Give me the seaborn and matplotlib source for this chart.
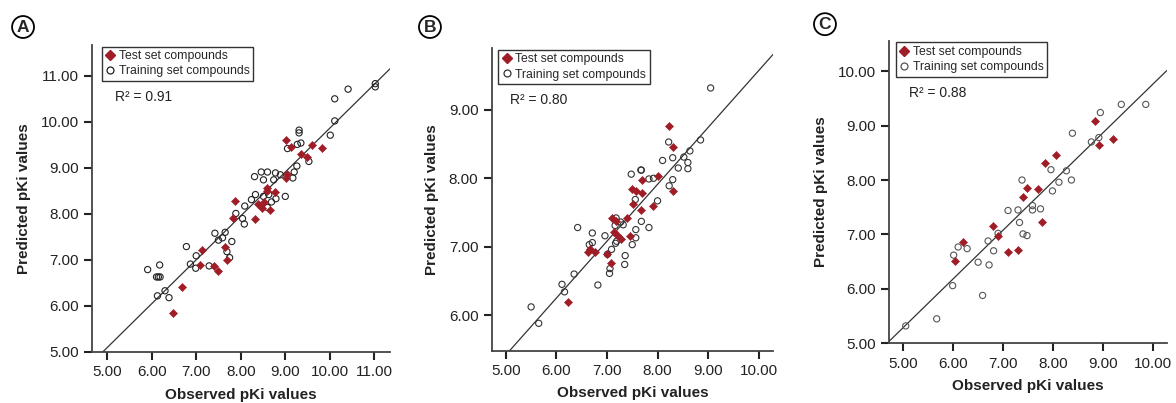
import numpy as np
import pandas as pd
import matplotlib
matplotlib.use('Agg')
import matplotlib.pyplot as plt
from matplotlib.ticker import FormatStrFormatter
from matplotlib.lines import Line2D
import seaborn as sns

sns.set_style('ticks')
plt.rcParams['font.family'] = ['Liberation Sans', 'DejaVu Sans']

# panel A
a_test_obs = [9.02, 9.13, 9.60, 9.82, 9.35, 9.49, 9.03, 9.02, 8.60, 8.77, 8.39, 8.53, 8.48, 8.65,
              7.88, 7.82, 8.33, 7.13, 7.65, 7.08, 7.39, 7.49, 7.69, 6.68, 6.48, 8.58]
a_test_pred = [9.60, 9.45, 9.49, 9.44, 9.31, 9.24, 8.87, 8.78, 8.57, 8.48, 8.22, 8.25, 8.13, 8.09,
               8.28, 7.90, 7.88, 7.21, 7.29, 6.90, 6.86, 6.77, 7.00, 6.42, 5.84, 8.50]
a_train_obs = [11.02, 11.02, 10.41, 10.11, 10.11, 10.01, 9.31, 9.31, 9.27, 9.35, 9.05, 9.53, 9.26,
               9.20, 9.17, 8.31, 8.46, 8.60, 8.78, 8.89, 8.51, 8.74, 8.33, 8.24, 8.51, 8.63, 8.79,
               8.69, 9.00, 8.60, 8.09, 7.89, 8.04, 8.08, 7.65, 7.42, 7.50, 7.59, 7.80, 6.78, 7.00,
               7.69, 7.75, 6.87, 6.99, 7.29, 5.91, 6.18, 6.11, 6.15, 6.19, 6.30, 6.13, 6.39]
a_train_pred = [10.83, 10.76, 10.71, 10.50, 10.02, 9.71, 9.82, 9.76, 9.51, 9.54, 9.42, 9.14, 9.04,
                8.91, 8.78, 8.81, 8.91, 8.91, 8.89, 8.85, 8.74, 8.74, 8.42, 8.31, 8.38, 8.42, 8.33,
                8.26, 8.38, 8.14, 8.17, 8.01, 7.90, 7.78, 7.60, 7.58, 7.43, 7.48, 7.40, 7.29, 7.09,
                7.18, 7.05, 6.91, 6.82, 6.87, 6.79, 6.89, 6.63, 6.63, 6.63, 6.33, 6.22, 6.18]

# panel B
b_test_obs = [8.23, 8.31, 8.00, 7.69, 7.50, 7.57, 7.69, 8.31, 7.52, 7.67, 7.92, 7.10, 7.17, 7.39,
              7.14, 7.20, 7.28, 7.46, 6.62, 6.66, 6.76, 7.01, 7.07, 6.23]
b_test_pred = [8.76, 8.45, 8.04, 7.97, 7.84, 7.82, 7.78, 7.82, 7.62, 7.53, 7.59, 7.42, 7.37, 7.42,
               7.22, 7.17, 7.11, 7.16, 6.92, 6.96, 6.92, 6.89, 6.76, 6.19]
b_train_obs = [9.05, 8.85, 8.22, 8.64, 8.52, 8.30, 8.10, 8.60, 8.60, 8.41, 7.67, 7.68, 7.48, 7.83,
               7.92, 8.30, 8.23, 8.00, 7.56, 7.68, 7.83, 7.57, 7.57, 7.50, 7.18, 7.16, 7.27, 7.32,
               6.42, 6.71, 6.96, 6.71, 6.65, 7.19, 7.17, 7.09, 7.01, 7.36, 7.35, 7.06, 7.05, 6.35,
               6.11, 6.16, 6.82, 5.50, 5.65]
b_train_pred = [9.32, 8.56, 8.53, 8.40, 8.31, 8.30, 8.26, 8.23, 8.14, 8.15, 8.12, 8.12, 8.06, 7.99,
                8.00, 7.98, 7.89, 7.67, 7.69, 7.37, 7.28, 7.25, 7.13, 7.03, 7.42, 7.31, 7.36, 7.32,
                7.28, 7.20, 7.16, 7.06, 7.03, 7.08, 7.05, 6.96, 6.89, 6.87, 6.74, 6.68, 6.61, 6.60,
                6.45, 6.34, 6.44, 6.12, 5.88]

# panel C
c_test_obs = [8.85, 9.20, 8.92, 8.06, 7.85, 7.70, 7.48, 7.40, 7.79, 6.80, 6.90, 6.20, 6.04, 7.10, 7.30]
c_test_pred = [9.08, 8.75, 8.64, 8.46, 8.31, 7.84, 7.86, 7.69, 7.22, 7.16, 6.97, 6.86, 6.52, 6.68, 6.71]
c_train_obs = [9.86, 9.37, 8.95, 8.92, 8.77, 8.39, 8.27, 7.96, 8.12, 8.37, 7.99, 7.38, 7.59, 7.59,
               7.75, 7.30, 7.10, 7.33, 7.40, 7.48, 6.90, 6.70, 6.81, 6.10, 6.28, 6.01, 6.50, 6.72,
               5.99, 6.59, 5.67, 5.05]
c_train_pred = [9.39, 9.39, 9.24, 8.78, 8.70, 8.86, 8.17, 8.19, 7.96, 8.00, 7.80, 8.00, 7.53, 7.45,
                7.47, 7.45, 7.44, 7.22, 7.01, 6.98, 7.02, 6.88, 6.70, 6.77, 6.74, 6.62, 6.49, 6.44,
                6.06, 5.88, 5.45, 5.32]

r2_labels = ['R\u00b2 = 0.91', 'R\u00b2 = 0.80', 'R\u00b2 = 0.88']
panel_letters = ['A', 'B', 'C']

red = '#a01c26'

fig = plt.figure(figsize=(11.76, 4.03), dpi=100)
positions = [[0.0782, 0.1266, 0.2534, 0.7618],
             [0.4181, 0.1298, 0.2395, 0.7504],
             [0.7562, 0.1481, 0.2359, 0.7509]]
limits = [((4.66, 11.35), (5.0, 11.67)),
          ((4.72, 10.29), (5.48, 9.90)),
          ((4.72, 10.28), (5.0, 10.56))]
xticks = [[5, 6, 7, 8, 9, 10, 11], [5, 6, 7, 8, 9, 10], [5, 6, 7, 8, 9, 10]]
yticks = [[5, 6, 7, 8, 9, 10, 11], [6, 7, 8, 9], [5, 6, 7, 8, 9, 10]]
letter_pos = [(0.0196, 0.933), (0.3656, 0.933), (0.7015, 0.940)]
r2_pos = [(0.077, 0.83), (0.065, 0.829), (0.072, 0.826)]
circle_edge = ['#222222', '#333333', '#555555']

data = [(a_test_obs, a_test_pred, a_train_obs, a_train_pred),
        (b_test_obs, b_test_pred, b_train_obs, b_train_pred),
        (c_test_obs, c_test_pred, c_train_obs, c_train_pred)]

for i, (tx, ty, rx, ry) in enumerate(data):
    ax = fig.add_axes(positions[i])
    ax.set_xlim(*limits[i][0])
    ax.set_ylim(*limits[i][1])
    df = pd.concat([pd.DataFrame({'obs': rx, 'pred': ry, 'set': 'train'}),
                    pd.DataFrame({'obs': tx, 'pred': ty, 'set': 'test'})])
    sns.regplot(data=df, x='obs', y='pred', scatter=False, ci=None, truncate=False,
                ax=ax, line_kws=dict(color='#333333', lw=0.9))
    sns.scatterplot(x=rx, y=ry, ax=ax, marker='o', s=20, facecolor='none',
                    edgecolor=circle_edge[i], linewidth=0.8, zorder=3)
    sns.scatterplot(x=tx, y=ty, ax=ax, marker='D', s=17, color=red,
                    edgecolor=red, linewidth=0.4, zorder=4)
    ax.set_xlim(*limits[i][0])
    ax.set_ylim(*limits[i][1])
    ax.set_xticks(xticks[i])
    ax.set_yticks(yticks[i])
    ax.xaxis.set_major_formatter(FormatStrFormatter('%.2f'))
    ax.yaxis.set_major_formatter(FormatStrFormatter('%.2f'))
    ax.tick_params(axis='both', labelsize=11, length=6, width=1.5, color='#222222',
                   labelcolor='#222222', pad=3.5)
    for s in ['left', 'bottom']:
        ax.spines[s].set_linewidth(1.3)
        ax.spines[s].set_color('#444444')
    sns.despine(ax=ax)
    ax.set_xlabel('Observed pKi values', fontsize=11, fontweight='bold', color='#222222', labelpad=6)
    ax.set_ylabel('Predicted pKi values', fontsize=11, fontweight='bold', color='#222222', labelpad=7)

    handles = [Line2D([], [], marker='D', ls='none', color=red, markersize=5),
               Line2D([], [], marker='o', ls='none', markerfacecolor='none',
                      markeredgecolor=circle_edge[i], markersize=5, markeredgewidth=0.9)]
    leg = ax.legend(handles, ['Test set compounds', 'Training set compounds'],
                    loc='upper left', bbox_to_anchor=(0.023 if i else 0.033, 0.995),
                    fontsize=8.8, frameon=True, fancybox=False, framealpha=1,
                    edgecolor='#333333', handlelength=0.8, handletextpad=0.3,
                    borderpad=0.3, labelspacing=0.25, borderaxespad=0)
    leg.get_frame().set_linewidth(1.0)
    ax.text(r2_pos[i][0], r2_pos[i][1], r2_labels[i], transform=ax.transAxes,
            fontsize=10, va='center', ha='left', color='#222222')

    fig.text(letter_pos[i][0], letter_pos[i][1], panel_letters[i], fontsize=12.5,
             fontweight='bold', ha='center', va='center',
             bbox=dict(boxstyle='circle,pad=0.2', fc='white', ec='black', lw=1.3))

fig.savefig('out.png', dpi=100)
